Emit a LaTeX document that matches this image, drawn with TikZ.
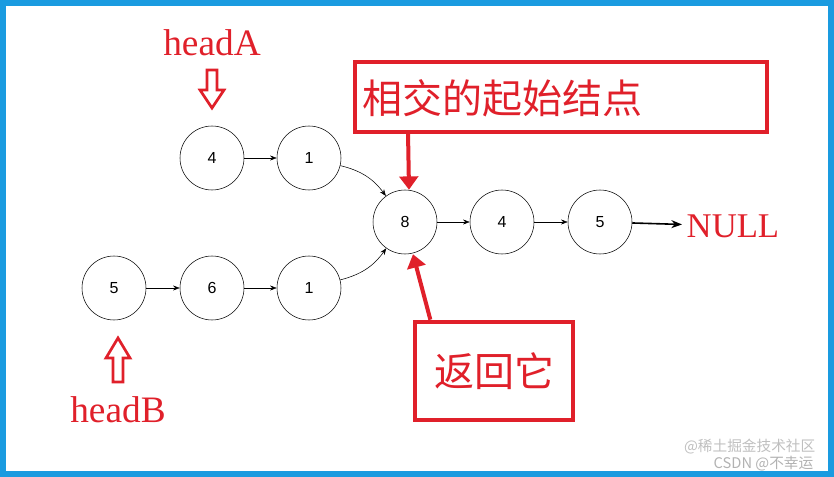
\documentclass[tikz,border=0pt]{standalone}
\usepackage{fontspec}
\setmainfont{Liberation Serif}
\newfontfamily\cjk{Noto Sans CJK SC}
\newfontfamily\numfont{Liberation Sans}
\usetikzlibrary{arrows.meta}
\definecolor{frameblue}{HTML}{1A9BE0}
\definecolor{markred}{HTML}{E0202A}
\tikzset{
  listnode/.style={draw, circle, minimum size=48pt, inner sep=0pt, font=\numfont\fontsize{12}{14}\selectfont},
  link/.style={-{Stealth[length=5pt]}, thin},
  redlabel/.style={text=markred, font=\fontsize{28}{32}\selectfont},
  redbox/.style={draw=markred, line width=3pt, text=markred, font=\cjk\fontsize{30}{34}\selectfont, inner sep=4pt},
  hollow/.style={draw=markred, line width=2pt, line join=miter},
  callout/.style={draw=markred, line width=3pt, -{Triangle[length=10pt,width=14pt]}}
}
\begin{document}
\begin{tikzpicture}[x=0.75pt,y=-0.75pt]
  \useasboundingbox (0,0) rectangle (834,477);
  % Frame
  \draw[frameblue, line width=4pt] (3,3) rectangle (831,474);

  % List A
  \node[listnode] (a1) at (212,158) {4};
  \node[listnode] (a2) at (309,158) {1};
  % List B
  \node[listnode] (b1) at (114,288) {5};
  \node[listnode] (b2) at (212,288) {6};
  \node[listnode] (b3) at (309,288) {1};
  % Shared part
  \node[listnode] (c1) at (405,222) {8};
  \node[listnode] (c2) at (502,222) {4};
  \node[listnode] (c3) at (600,222) {5};
  \node[text=markred, font=\fontsize{26}{30}\selectfont, anchor=west] (null) at (682,226) {NULL};

  \draw[link] (a1) -- (a2);
  \draw[link] (a2) to[bend left=20] (c1);
  \draw[link] (b1) -- (b2);
  \draw[link] (b2) -- (b3);
  \draw[link] (b3) to[bend right=20] (c1);
  \draw[link] (c1) -- (c2);
  \draw[link] (c2) -- (c3);
  \draw[-{Stealth[length=8pt]}, line width=1.2pt] (c3) -- (null);

  % Heads
  \node[redlabel] (headA) at (212,43) {headA};
  \draw[hollow] (207,70) -- (217,70) -- (217,90) -- (224,90) -- (212,108) -- (200,90) -- (207,90) -- cycle;
  \node[redlabel] (headB) at (118,410) {headB};
  \draw[hollow] (113,382) -- (123,382) -- (123,358) -- (130,358) -- (118,338) -- (106,358) -- (113,358) -- cycle;

  % Callouts
  \draw[draw=markred, line width=3pt] (355,62) rectangle (767,132);
  \node[text=markred, font=\cjk\fontsize{30}{34}\selectfont, anchor=west] (start) at (358,98) {相交的起始结点};
  \node[redbox, minimum width=118pt, minimum height=74pt] (ret) at (494,371) {返回它};
  \draw[callout] (408,132) coordinate (s1) -- ([xshift=3pt]c1.north);
  \draw[callout] (ret.north west) ++(17,0) coordinate (r1) -- ([xshift=6pt]c1.south);

  % Watermark
  \node[text=gray!50, font=\cjk\fontsize{11}{13}\selectfont, anchor=east] (wm1) at (820,447) {@稀土掘金技术社区};
  \node[text=gray!60, font=\cjk\fontsize{11}{13}\selectfont, anchor=east] (wm2) at (818,464) {CSDN @不幸运};
\end{tikzpicture}
\end{document}
